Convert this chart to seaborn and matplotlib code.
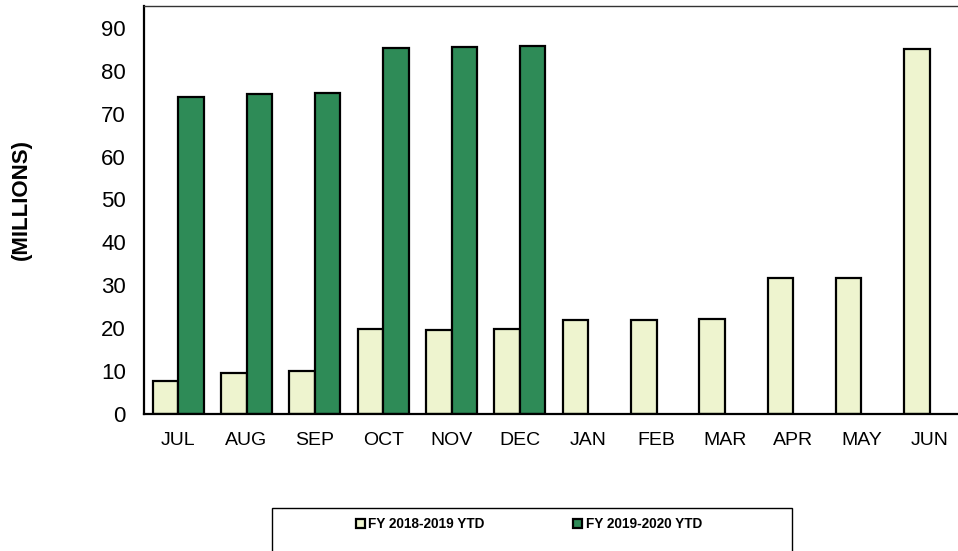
import matplotlib
matplotlib.use("Agg")
import matplotlib.pyplot as plt
from matplotlib.patches import Rectangle
import numpy as np
import pandas as pd
import seaborn as sns

months = ["JUL", "AUG", "SEP", "OCT", "NOV", "DEC",
          "JAN", "FEB", "MAR", "APR", "MAY", "JUN"]
fy_2018_2019 = [7.7, 9.5, 10.0, 19.7, 19.6, 19.9, 22.0, 22.0, 22.1, 31.6, 31.6, 85.1]
fy_2019_2020 = [74.0, 74.5, 74.8, 85.3, 85.5, 85.8,
                np.nan, np.nan, np.nan, np.nan, np.nan, np.nan]
series_names = ["FY 2018-2019 YTD", "FY 2019-2020 YTD"]
yticks = [0, 10, 20, 30, 40, 50, 60, 70, 80, 90]

df = pd.DataFrame({
    "month": months * 2,
    "value": fy_2018_2019 + fy_2019_2020,
    "series": [series_names[0]] * len(months) + [series_names[1]] * len(months),
})

sns.set_style("white")
plt.rcParams["font.family"] = ["Liberation Sans", "DejaVu Sans"]
plt.rcParams["text.color"] = "black"
plt.rcParams["xtick.color"] = "black"
plt.rcParams["ytick.color"] = "black"
plt.rcParams["axes.labelcolor"] = "black"

fig = plt.figure(figsize=(9.58, 5.51), dpi=100)
ax = fig.add_axes([144 / 958, 1 - 414 / 551, 820 / 958, 408 / 551])

palette = {series_names[0]: "#eef4cf", series_names[1]: "#2e8b57"}
sns.barplot(data=df, x="month", y="value", hue="series", order=months,
            hue_order=series_names, palette=palette, saturation=1,
            edgecolor="black", linewidth=1.6, width=0.75, ax=ax, legend=True)

handles, labels = ax.get_legend_handles_labels()
ax.get_legend().remove()

ax.set_ylim(0, 95.1)
ax.set_xlim(-0.5, len(months) - 0.5)
ax.set_yticks(yticks)
ax.set_yticklabels([str(v) for v in yticks], fontsize=16)
ax.set_xticks(range(len(months)))
ax.set_xticklabels(months, fontsize=14)
ax.tick_params(axis="x", which="major", length=0, pad=13)
ax.set_xticks(np.arange(-0.5, len(months), 1.0), minor=True)
ax.tick_params(axis="x", which="minor", length=5, width=1.2, direction="out", color="black")
ax.tick_params(axis="y", which="major", length=6, width=1.2, direction="out", color="black", pad=7)
ax.set_xlabel("")
ax.set_ylabel("(MILLIONS)", fontsize=16, fontweight="bold")
ax.yaxis.set_label_coords((32 - 144) / 820, (414 - 200) / 408)

for side in ["left", "bottom"]:
    ax.spines[side].set_color("black")
    ax.spines[side].set_linewidth(1.6)
ax.spines["top"].set_color("#333333")
ax.spines["top"].set_linewidth(1.0)
ax.spines["right"].set_visible(False)

# legend frame box
fig.patches.append(Rectangle((272 / 958, 1 - 560 / 551), 520 / 958, 52 / 551,
                             transform=fig.transFigure, fill=False,
                             edgecolor="black", linewidth=1.0))
fig.legend(handles, labels, loc="center", bbox_to_anchor=(529 / 958, 1 - 524 / 551),
           ncol=2, frameon=False, prop={"size": 9.8, "weight": "bold"},
           handlelength=0.65, handleheight=0.65, handletextpad=0.25,
           columnspacing=6.5)

fig.savefig("out.png", dpi=100)
